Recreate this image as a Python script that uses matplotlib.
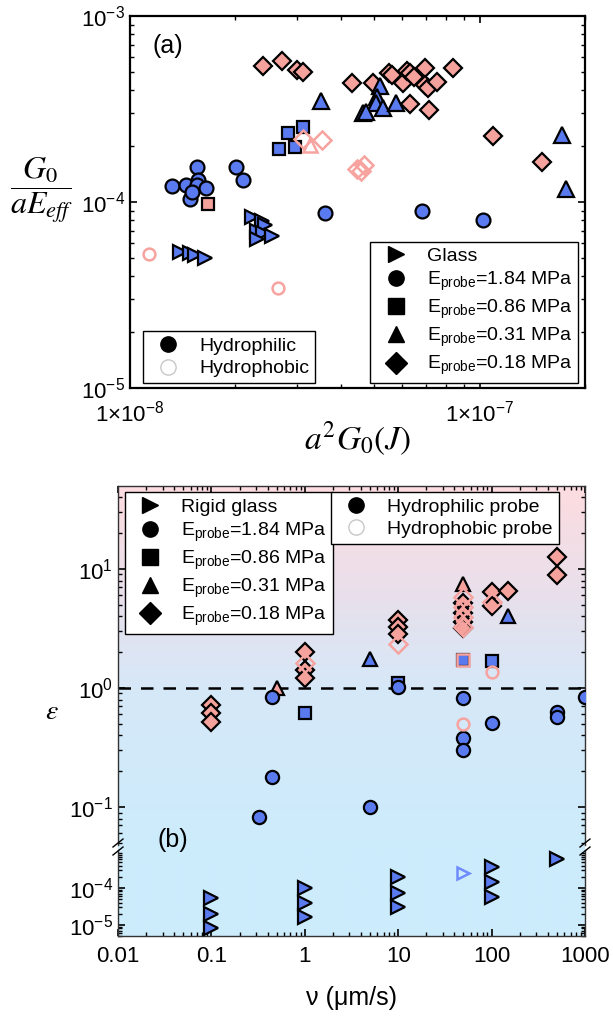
import matplotlib
matplotlib.use('Agg')
import matplotlib.pyplot as plt
import numpy as np
from matplotlib.lines import Line2D
from matplotlib.ticker import LogLocator, FixedLocator, FuncFormatter, NullFormatter, LogFormatterMathtext

plt.rcParams['font.family'] = ['Liberation Sans', 'DejaVu Sans']
plt.rcParams['mathtext.fontset'] = 'custom'
plt.rcParams['mathtext.rm'] = 'Liberation Sans'
plt.rcParams['mathtext.it'] = 'Liberation Sans:italic'
plt.rcParams['mathtext.bf'] = 'Liberation Sans:bold'

BLUE = '#5A7BF0'
PINK = '#F5A19C'
PINK_EDGE = '#F7A3A0'

# ---------------- panel (a) data: a^2 G0 (J) vs G0/(a E_eff) ----------------
glass_a_x = [2.24e-8, 2.38e-8, 2.43e-8, 2.31e-8, 2.40e-8, 2.55e-8, 2.31e-8, 1.39e-8, 1.48e-8, 1.53e-8, 1.64e-8]
glass_a_y = [8.3e-5, 7.9e-5, 7.5e-5, 7.0e-5, 6.8e-5, 6.56e-5, 6.3e-5, 5.38e-5, 5.3e-5, 5.2e-5, 5.0e-5]

e184_a_x = [1.32e-8, 1.45e-8, 1.48e-8, 1.55e-8, 1.56e-8, 1.55e-8, 1.65e-8, 1.50e-8, 2.01e-8, 2.10e-8, 3.61e-8, 6.82e-8, 1.02e-7]
e184_a_y = [1.22e-4, 1.23e-4, 1.04e-4, 1.54e-4, 1.31e-4, 1.23e-4, 1.19e-4, 1.13e-4, 1.54e-4, 1.31e-4, 8.73e-5, 8.95e-5, 8.0e-5]

e086_a_x = [3.12e-8, 2.83e-8, 2.67e-8, 2.96e-8]
e086_a_y = [2.53e-4, 2.35e-4, 1.93e-4, 1.98e-4]
e086_pink_a_x = [1.67e-8]
e086_pink_a_y = [9.8e-5]

e031_a_x = [3.51e-8, 5.18e-8, 5.08e-8, 5.04e-8, 4.63e-8, 4.73e-8, 5.30e-8, 5.76e-8, 1.72e-7, 1.76e-7]
e031_a_y = [3.49e-4, 4.2e-4, 3.67e-4, 3.4e-4, 3.0e-4, 3.05e-4, 3.2e-4, 3.4e-4, 2.29e-4, 1.17e-4]

e018_a_x = [2.40e-8, 2.72e-8, 3.00e-8, 3.12e-8, 4.31e-8, 4.94e-8, 5.5e-8, 5.6e-8, 6.03e-8, 6.18e-8, 6.3e-8,
            6.47e-8, 6.97e-8, 6.97e-8, 7.1e-8, 7.54e-8, 8.37e-8, 6.3e-8, 7.14e-8, 1.09e-7, 1.51e-7]
e018_a_y = [5.38e-4, 5.73e-4, 5.13e-4, 5.0e-4, 4.36e-4, 4.36e-4, 4.95e-4, 4.8e-4, 4.36e-4, 5.06e-4, 4.95e-4,
            4.7e-4, 5.25e-4, 4.25e-4, 4.1e-4, 4.41e-4, 5.25e-4, 3.37e-4, 3.13e-4, 2.26e-4, 1.64e-4]

phob_dia_a_x = [3.12e-8, 3.54e-8, 4.46e-8, 4.66e-8, 4.58e-8]
phob_dia_a_y = [2.18e-4, 2.16e-4, 1.50e-4, 1.58e-4, 1.47e-4]
phob_tri_a_x = [3.27e-8]
phob_tri_a_y = [2.03e-4]
phob_cir_a_x = [1.13e-8, 2.65e-8]
phob_cir_a_y = [5.25e-5, 3.45e-5]

# ---------------- panel (b) data: velocity (um/s) vs epsilon ----------------
glass_b_v = [0.1, 0.1, 0.1, 1, 1, 1, 10, 10, 10, 100, 100, 100, 500]
glass_b_e = [5.4e-5, 2.0e-5, 8.3e-6, 1.0e-4, 3.9e-5, 1.65e-5, 2.0e-4, 7.3e-5, 3.1e-5, 3.7e-4, 1.45e-4, 5.7e-5, 6.0e-4]
glass_phob_b_v = [50]
glass_phob_b_e = [2.5e-4]

e184_b_v = [0.45, 0.45, 0.32, 5, 10, 50, 50, 50, 100, 500, 500, 1000]
e184_b_e = [0.84, 0.18, 0.083, 0.10, 1.02, 0.82, 0.38, 0.30, 0.51, 0.63, 0.57, 0.84]
e184_phob_b_v = [50, 100]
e184_phob_b_e = [0.50, 1.37]

e086_b_v = [1, 10, 50, 100]
e086_b_e = [0.62, 1.10, 1.72, 1.70]
e086_phob_b_v = [50]
e086_phob_b_e = [1.72]

e031_blue_b_v = [5, 150]
e031_blue_b_e = [1.75, 4.0]
e031_pink_b_v = [0.5, 50]
e031_pink_b_e = [1.0, 7.5]

e018_b_v = [0.1, 0.1, 0.1, 1, 1, 1, 10, 10, 10, 50, 50, 50, 50, 100, 100, 150, 500, 500]
e018_b_e = [0.72, 0.62, 0.52, 1.99, 1.41, 1.22, 3.73, 3.26, 2.84, 5.2, 4.27, 3.58, 3.19, 6.4, 4.9, 6.5, 12.6, 8.9]
e018_phob_b_v = [1, 10, 50, 50, 50, 50, 100]
e018_phob_b_e = [1.62, 2.35, 5.8, 4.8, 3.95, 3.26, 5.3]

W, H = 613, 1019
fig = plt.figure(figsize=(W / 100, H / 100), dpi=100)


def rect(l, t, r, b):
    return [l / W, 1 - b / H, (r - l) / W, (b - t) / H]


def filled(ax, x, y, m, c, ms=10, z=3):
    ax.plot(x, y, ls='none', marker=m, mfc=c, mec='k', mew=1.6, ms=ms, zorder=z)


def hollow(ax, x, y, m, c, ms=10, z=4):
    ax.plot(x, y, ls='none', marker=m, mfc='none', mec=c, mew=1.8, ms=ms, zorder=z)


def style_ticks(ax, size=16):
    ax.tick_params(which='both', direction='in', top=True, right=True, labelsize=size)
    ax.tick_params(which='major', length=5, width=1.2)
    ax.tick_params(which='minor', length=3, width=1.0)


# ---------------- panel (a) ----------------
ax1 = fig.add_axes(rect(130, 16, 585, 388))
ax1.set_xscale('log')
ax1.set_yscale('log')

filled(ax1, e018_a_x, e018_a_y, 'D', PINK, ms=9)
filled(ax1, e086_pink_a_x, e086_pink_a_y, 's', PINK, ms=8.5)
filled(ax1, e086_a_x, e086_a_y, 's', BLUE, ms=8.5)
filled(ax1, e184_a_x, e184_a_y, 'o', BLUE, ms=10)
filled(ax1, glass_a_x, glass_a_y, '>', BLUE, ms=10.5)
filled(ax1, e031_a_x, e031_a_y, '^', BLUE, ms=11, z=5)
hollow(ax1, phob_dia_a_x, phob_dia_a_y, 'D', PINK_EDGE, ms=9)
hollow(ax1, phob_tri_a_x, phob_tri_a_y, '^', PINK_EDGE, ms=10)
hollow(ax1, phob_cir_a_x, phob_cir_a_y, 'o', PINK_EDGE, ms=8.5)

ax1.set_xlim(1e-8, 2e-7)
ax1.set_ylim(1e-5, 1e-3)
ax1.xaxis.set_major_locator(FixedLocator([1e-8, 1e-7]))
ax1.xaxis.set_minor_locator(LogLocator(base=10, subs=np.arange(2, 10)))
ax1.xaxis.set_minor_formatter(NullFormatter())
ax1.xaxis.set_major_formatter(FuncFormatter(lambda v, p: r'$1{\times}10^{%d}$' % round(np.log10(v))))
ax1.yaxis.set_major_formatter(LogFormatterMathtext())
style_ticks(ax1, 16)
ax1.tick_params(axis='x', pad=9)
for s in ax1.spines.values():
    s.set_linewidth(1.6)

ax1.text(0.05, 0.9, '(a)', transform=ax1.transAxes, fontsize=18)
ax1.set_xlabel(r'$a^2G_0(J)$', math_fontfamily='stix', fontsize=24, labelpad=-5)
fig.text(42 / W, 1 - 190 / H, r'$\dfrac{G_0}{aE_{eff}}$', math_fontfamily='stix', fontsize=23,
         ha='center', va='center')

leg_kw = dict(ls='none', color='k', ms=11)
h_shape = [Line2D([], [], marker='>', **leg_kw),
           Line2D([], [], marker='o', **leg_kw),
           Line2D([], [], marker='s', **leg_kw),
           Line2D([], [], marker='^', **leg_kw),
           Line2D([], [], marker='D', **leg_kw)]
e_labels = [r'E$_{\mathrm{probe}}$=1.84 MPa', r'E$_{\mathrm{probe}}$=0.86 MPa',
            r'E$_{\mathrm{probe}}$=0.31 MPa', r'E$_{\mathrm{probe}}$=0.18 MPa']
h_wet = [Line2D([], [], marker='o', ls='none', mfc='k', mec='k', ms=11),
         Line2D([], [], marker='o', ls='none', mfc='none', mec='#c8c8c8', mew=1.0, ms=11)]

frame = dict(fancybox=False, edgecolor='k', framealpha=1, borderaxespad=0, handletextpad=0.6,
             labelspacing=0.25, borderpad=0.3, fontsize=14)
lg1 = ax1.legend(h_shape, ['Glass'] + e_labels, loc='lower right', bbox_to_anchor=(0.985, 0.013), **frame)
lg1.get_frame().set_linewidth(1.0)
ax1.add_artist(lg1)
lg2 = ax1.legend(h_wet, ['Hydrophilic', 'Hydrophobic'], loc='lower left', bbox_to_anchor=(0.029, 0.013), **frame)
lg2.get_frame().set_linewidth(1.0)

# ---------------- panel (b) ----------------
# gradient background behind both halves of the broken axis
bg = fig.add_axes(rect(118, 486, 585, 936), zorder=0)
stops = [0.0, 0.19, 0.55, 0.75, 1.0]
cols = np.array([[204, 236, 252], [204, 236, 252], [214, 232, 248], [232, 224, 236], [253, 220, 224]]) / 255
fr = np.linspace(0, 1, 400)
img = np.stack([np.interp(fr, stops, cols[:, k]) for k in range(3)], axis=-1)[:, None, :]
bg.imshow(img, aspect='auto', origin='lower', extent=[0, 1, 0, 1])
bg.axis('off')

ax2 = fig.add_axes(rect(118, 486, 585, 845), zorder=1)
ax3 = fig.add_axes(rect(118, 850, 585, 936), zorder=1)
for ax in (ax2, ax3):
    ax.set_facecolor('none')
    ax.set_xscale('log')
    ax.set_yscale('log')
    ax.set_xlim(0.01, 1000)
    for s in ax.spines.values():
        s.set_linewidth(1.0)
        s.set_color('#333333')

ax2.axhline(1.0, color='k', ls=(0, (5, 4)), lw=1.8, zorder=2)

filled(ax2, e018_b_v, e018_b_e, 'D', PINK, ms=9)
filled(ax2, e031_pink_b_v, e031_pink_b_e, '^', PINK, ms=10)
filled(ax2, e031_blue_b_v, e031_blue_b_e, '^', BLUE, ms=10)
filled(ax2, e086_b_v, e086_b_e, 's', BLUE, ms=8.5)
filled(ax2, e184_b_v, e184_b_e, 'o', BLUE, ms=9.5)
hollow(ax2, e018_phob_b_v, e018_phob_b_e, 'D', PINK_EDGE, ms=9)
hollow(ax2, e086_phob_b_v, e086_phob_b_e, 's', PINK_EDGE, ms=9)
hollow(ax2, e184_phob_b_v, e184_phob_b_e, 'o', PINK_EDGE, ms=8.5)

filled(ax3, glass_b_v, glass_b_e, '>', BLUE, ms=10)
hollow(ax3, glass_phob_b_v, glass_phob_b_e, '>', '#6E8BFF', ms=9)

ax2.set_ylim(0.048, 49.8)
ax3.set_ylim(5.0e-6, 1.06e-3)

ax2.spines['bottom'].set_visible(False)
ax3.spines['top'].set_visible(False)
style_ticks(ax2, 16)
style_ticks(ax3, 16)
ax2.tick_params(which='both', bottom=False, labelbottom=False)
ax3.tick_params(which='both', top=False)

for ax in (ax2, ax3):
    ax.xaxis.set_major_locator(FixedLocator([0.01, 0.1, 1, 10, 100, 1000]))
    ax.xaxis.set_minor_locator(LogLocator(base=10, subs=np.arange(2, 10)))
    ax.xaxis.set_minor_formatter(NullFormatter())
    ax.yaxis.set_minor_locator(LogLocator(base=10, subs=np.arange(2, 10)))
    ax.yaxis.set_minor_formatter(NullFormatter())
ax2.yaxis.set_major_locator(FixedLocator([0.1, 1, 10]))
ax3.yaxis.set_major_locator(FixedLocator([1e-5, 1e-4]))
ax2.yaxis.set_major_formatter(LogFormatterMathtext())
ax3.yaxis.set_major_formatter(LogFormatterMathtext())
ax3.xaxis.set_major_formatter(FuncFormatter(lambda v, p: '%g' % v))
ax3.tick_params(axis='x', pad=7)

ax3.set_xlabel('ν (μm/s)', fontsize=18, labelpad=14)
fig.text(52 / W, 1 - 712 / H, r'$\varepsilon$', math_fontfamily='stix', fontsize=20, ha='center', va='center')
fig.text(173 / W, 1 - 840 / H, '(b)', fontsize=18, ha='center', va='center', zorder=5)

# break marks on both spines
for xp in (118, 585):
    for yc in (843, 851):
        fig.add_artist(Line2D([(xp - 5) / W, (xp + 5) / W], [1 - (yc + 4) / H, 1 - (yc - 4) / H],
                              color='k', lw=1.0, transform=fig.transFigure, zorder=6))

lg3 = ax2.legend(h_shape, ['Rigid glass'] + e_labels, loc='upper left', bbox_to_anchor=(0.015, 0.983), **frame)
lg3.get_frame().set_linewidth(1.0)
ax2.add_artist(lg3)
h_wet2 = [Line2D([], [], marker='o', ls='none', mfc='k', mec='k', ms=11),
          Line2D([], [], marker='o', ls='none', mfc='none', mec='#c8c8c8', mew=1.0, ms=11)]
lg4 = ax2.legend(h_wet2, ['Hydrophilic probe', 'Hydrophobic probe'], loc='upper left',
                 bbox_to_anchor=(0.456, 0.983), **frame)
lg4.get_frame().set_linewidth(1.0)

fig.savefig('out.png', dpi=100)
